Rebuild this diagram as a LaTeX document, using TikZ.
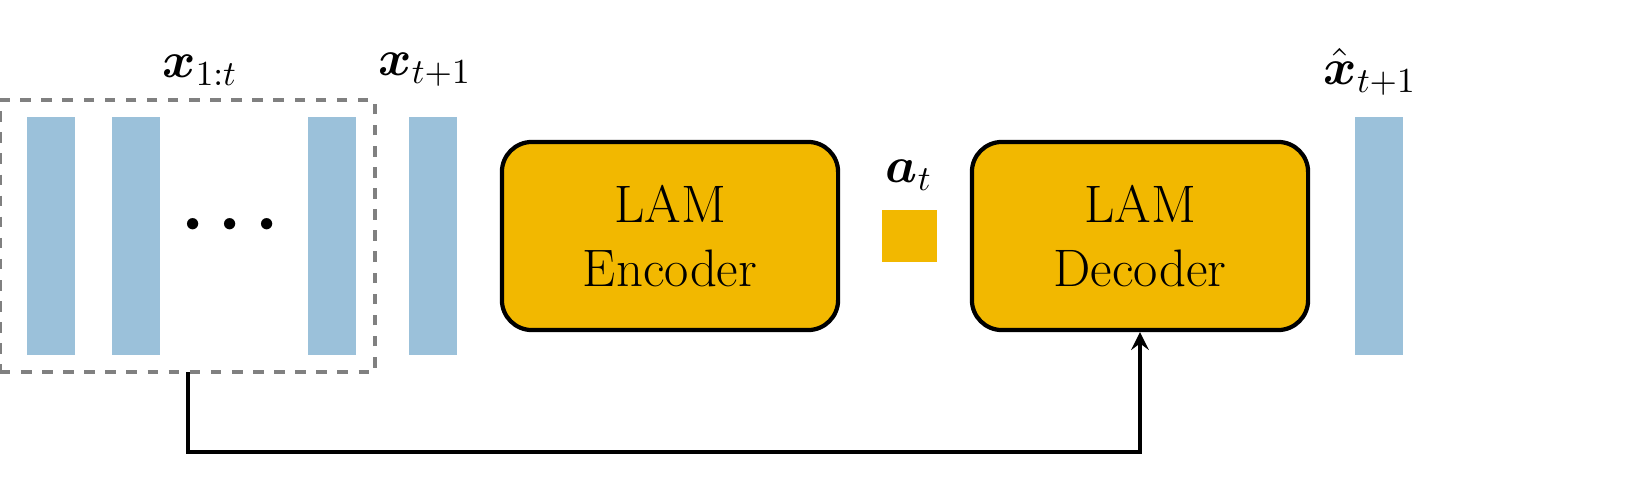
\documentclass[tikz,border=0pt]{standalone}
\usepackage{amsmath,amssymb}
\usepackage{tikz}
\usepackage{xcolor}
\definecolor{barblue}{HTML}{9BC1DA}
\definecolor{lamgold}{HTML}{F2B800}
\begin{document}
\begin{tikzpicture}[x=0.01cm,y=-0.01cm,
	frame/.style={draw=black,thick,fill=barblue},
	bar/.style={fill=barblue,draw=none,minimum width=0.48cm,minimum height=2.38cm,inner sep=0pt},
	lam/.style={draw=black,line width=1.2pt,fill=lamgold,rounded corners=0.3cm,minimum width=3.36cm,minimum height=1.88cm,align=center,font=\fontsize{15}{18}\selectfont},
	lbl/.style={font=\fontsize{14}{16}\selectfont}]
	\useasboundingbox (0,0) rectangle (1640,500);
	\begin{scope}
		\node[bar] (b1) at (51,236) {};
		\node[bar] (b2) at (136,236) {};
		\node[bar] (b3) at (332,236) {};
		\node[bar] (b4) at (433,236) {};
		\node[bar] (b5) at (1379,236) {};
	\end{scope}
	\node[draw=gray,dashed,line width=1.2pt,minimum width=3.75cm,minimum height=2.72cm,inner sep=0pt] (ctx) at (187.5,236) {};
	\node[font=\fontsize{22}{24}\selectfont\bfseries] (dots) at (237,225) {$\boldsymbol{\cdots}$};
	\node[lbl] (l1) at (200,70) {$\boldsymbol{x}_{1:t}$};
	\node[lbl] (l2) at (425,70) {$\boldsymbol{x}_{t+1}$};
	\node[lbl] (l3) at (1370,72) {$\hat{\boldsymbol{x}}_{t+1}$};
	\node[lam] (enc) at (670,236) {LAM\\Encoder};
	\node[lam] (dec) at (1140,236) {LAM\\Decoder};
	\node[fill=lamgold,minimum width=0.55cm,minimum height=0.52cm,inner sep=0pt] (act) at (909,236) {};
	\node[lbl] (la) at (909,175) {$\boldsymbol{a}_t$};
	\coordinate (s) at (188,372);
	\draw[-stealth,line width=1.2pt] (s) -- (188,452) -| (dec.south);
\end{tikzpicture}
\end{document}
